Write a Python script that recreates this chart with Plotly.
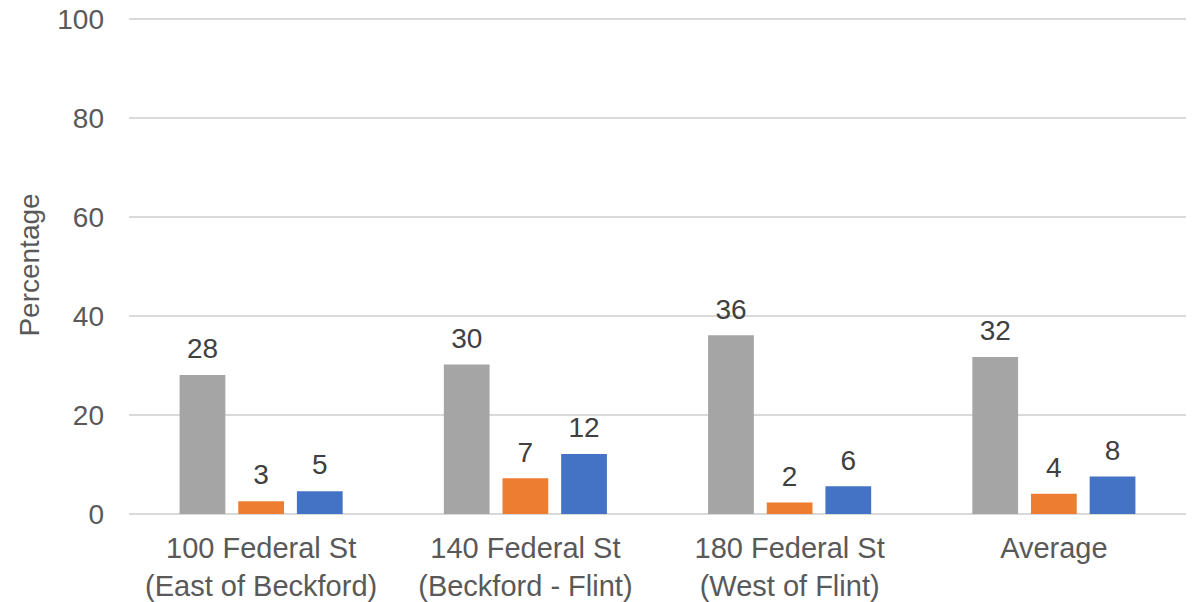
import plotly.graph_objects as go

categories = [
    "100 Federal St<br>(East of Beckford)",
    "140 Federal St<br>(Beckford - Flint)",
    "180 Federal St<br>(West of Flint)",
    "Average",
]
series_a = [28.1, 30.2, 36.1, 31.7]   # gray
series_b = [2.6, 7.2, 2.3, 4.1]       # orange
series_c = [4.6, 12.1, 5.6, 7.6]      # blue
y_ticks = [0, 20, 40, 60, 80, 100]

FONT = "Arial, Liberation Sans, sans-serif"
colors = ["#A5A5A5", "#ED7D31", "#4472C4"]
names = ["Series A", "Series B", "Series C"]
groups = ["a", "b", "c"]
BARGAP = 0.334

fig = go.Figure()
for name, vals, col, grp in zip(names, [series_a, series_b, series_c], colors, groups):
    fig.add_trace(go.Bar(
        name=name,
        x=categories,
        y=vals,
        offsetgroup=grp,
        marker=dict(color=col, line=dict(width=0)),
        hovertemplate="%{y}<extra>" + name + "</extra>",
    ))
for name, vals, grp in zip(names, [series_a, series_b, series_c], groups):
    # data labels above bars
    fig.add_trace(go.Scatter(
        name=name + " label",
        x=categories,
        y=vals,
        offsetgroup=grp,
        mode="markers+text",
        marker=dict(size=14, opacity=0, color="white"),
        texttemplate="%{y:.0f}",
        textposition="top center",
        textfont=dict(family=FONT, size=28, color="#404040"),
        hoverinfo="skip",
        cliponaxis=False,
    ))

fig.update_layout(
    width=1196,
    height=602,
    barmode="group",
    bargap=BARGAP,
    bargroupgap=0.22,
    scattermode="group",
    scattergap=BARGAP,
    showlegend=False,
    plot_bgcolor="white",
    paper_bgcolor="white",
    margin=dict(l=129, r=10, t=16, b=88),
    font=dict(family=FONT, size=28, color="#595959"),
    xaxis=dict(
        automargin=False,
        showgrid=False,
        showline=False,
        ticks="",
        ticklabelstandoff=14,
        tickfont=dict(family=FONT, size=29, color="#595959"),
    ),
    yaxis=dict(
        automargin=False,
        range=[0, 100.6],
        tickvals=y_ticks,
        showgrid=True,
        gridcolor="#D9D9D9",
        gridwidth=1.5,
        zeroline=True,
        zerolinecolor="#D9D9D9",
        zerolinewidth=1.5,
        showline=False,
        ticks="",
        ticklabelstandoff=24,
        tickfont=dict(family=FONT, size=28, color="#595959"),
        title=dict(text="Percentage", font=dict(family=FONT, size=28, color="#595959"), standoff=9),
    ),
)

fig.write_html(
    "out.html",
    config={"displayModeBar": False},
    post_script="document.body.style.margin='0';",
)
